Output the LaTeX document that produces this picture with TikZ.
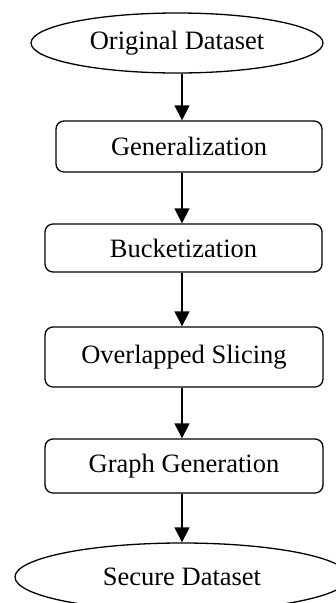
\documentclass[tikz,border=0pt]{standalone}
\usepackage{fontspec}
\setmainfont{Liberation Serif}
\usetikzlibrary{shapes.geometric,arrows.meta}
\tikzset{
  base/.style={draw=black, line width=1.3pt, inner sep=0pt, font=\fontsize{26.5}{30}\selectfont},
  ovalbox/.style={base, ellipse},
  procbox/.style={base, rectangle, rounded corners=8pt},
  flow/.style={line width=1.3pt, -{Triangle[length=15pt,width=15pt]}}
}
\begin{document}
\begin{tikzpicture}[x=1pt,y=1pt]
\useasboundingbox (0,0) rectangle (336,-603);
\clip (0,0) rectangle (336,-603);
\coordinate (ax) at (182,0);
\node[ovalbox, minimum width=292pt, minimum height=60pt] (orig) at (177,-43) {Original Dataset};
\node[procbox, minimum width=266pt, minimum height=51pt] (gen) at (189,-146.5) {Generalization};
\node[procbox, minimum width=277pt, minimum height=48pt] (buck) at (183.5,-248) {Bucketization};
\node[procbox, minimum width=278pt, minimum height=60pt] (over) at (184,-357) {Overlapped Slicing};
\node[procbox, minimum width=278pt, minimum height=54pt] (graph) at (184,-466) {Graph Generation};
\node[ovalbox, minimum width=334pt, minimum height=68pt] (sec) at (182,-577) {Secure Dataset};
\draw[flow] (orig.south -| ax) -- (gen.north -| ax);
\draw[flow] (gen.south -| ax) -- (buck.north -| ax);
\draw[flow] (buck.south -| ax) -- (over.north -| ax);
\draw[flow] (over.south -| ax) -- (graph.north -| ax);
\draw[flow] (graph.south -| ax) -- (sec.north -| ax);
\end{tikzpicture}
\end{document}
